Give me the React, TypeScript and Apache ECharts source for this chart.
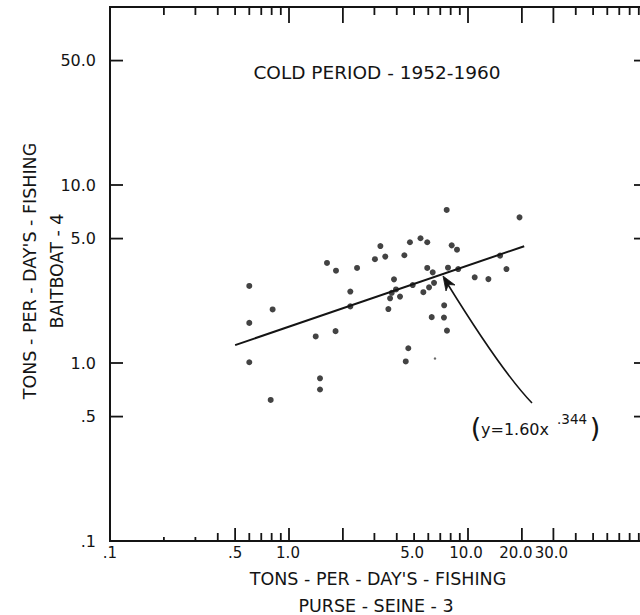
import React, { useEffect, useRef } from 'react';
import * as echarts from 'echarts';

// Tons per day's fishing, cold period 1952-1960
const purseSeine = [
  0.6, 0.6, 0.6, 0.81, 0.79, 1.41, 1.49, 1.49, 1.63, 1.83, 1.82, 2.2, 2.2, 2.4,
  3.02, 3.24, 3.45, 3.86, 3.59, 3.67, 3.75, 3.96, 4.17, 4.41, 4.74, 5.43, 5.92,
  4.91, 5.63, 5.92, 6.35, 6.06, 6.46, 6.27, 4.64, 4.49, 7.6, 19.4, 8.11, 8.68,
  15.1, 16.4, 13.0, 10.9, 7.73, 8.82, 7.36, 7.34, 7.63,
];
const baitboat = [
  2.71, 1.68, 1.01, 2.0, 0.62, 1.41, 0.82, 0.71, 3.65, 3.3, 1.51, 2.52, 2.08, 3.42,
  3.83, 4.54, 3.96, 2.95, 2.01, 2.31, 2.48, 2.59, 2.36, 4.03, 4.77, 5.02, 4.77,
  2.74, 2.5, 3.42, 3.23, 2.66, 2.82, 1.81, 1.21, 1.02, 7.24, 6.58, 4.58, 4.33,
  4.01, 3.37, 2.96, 3.03, 3.43, 3.37, 2.11, 1.8, 1.52,
];
// faint printed dot
const faintX = [6.54];
const faintY = [1.06];

// fitted curve y = a * x^b
const fitA = 1.6;
const fitB = 0.344;
const fitRange = [0.5, 20.6];

// log-paper tick marks
const xTickValues = [
  0.2, 0.3, 0.4, 0.5, 0.6, 0.7, 0.8, 0.9, 1, 2, 3, 4, 5, 6, 7, 8, 9, 10, 20, 30,
  40, 50, 60, 70, 80, 90,
];
const xLongTicks = [0.5, 1, 2, 10, 20, 30];
const xShortTicks = [0.2, 0.3];
const xLabelValues = [0.1, 0.5, 1, 5, 10, 20, 30];
const xLabels = ['.1', '.5', '1.0', '5.0', '10.0', '20.0', '30.0'];
const yTickValues = [0.5, 1, 5, 10, 50];
const yLabelValues = [0.1, 0.5, 1, 5, 10, 50];
const yLabels = ['.1', '.5', '1.0', '5.0', '10.0', '50.0'];

const INK = '#141414';
const FONT = '"DejaVu Sans", sans-serif';
const TICK_W = 1.8;
// small horizontal offsets of hand-lettered x labels
const xLabelNudge: Record<string, number> = { '1.0': -1, '5.0': -2, '10.0': -2, '20.0': -6, '30.0': -2 };

const fit = (x: number) => fitA * Math.pow(x, fitB);

const vTick = (x: number, y0: number, y1: number) => ({
  type: 'rect',
  silent: true,
  z: 100,
  shape: { x: x - TICK_W / 2, y: Math.min(y0, y1), width: TICK_W, height: Math.abs(y1 - y0) },
  style: { fill: INK },
});
const hTick = (y: number, x0: number, x1: number) => ({
  type: 'rect',
  silent: true,
  z: 100,
  shape: { x: Math.min(x0, x1), y: y - TICK_W / 2, width: Math.abs(x1 - x0), height: TICK_W },
  style: { fill: INK },
});
const txt = (text: string, x: number, y: number, fontSize: number, extra: any = {}) => ({
  type: 'text',
  x,
  y,
  silent: true,
  ...extra,
  style: {
    text,
    fill: INK,
    font: `${fontSize}px ${FONT}`,
    align: 'center',
    verticalAlign: 'middle',
    ...(extra.style || {}),
  },
});

export default function App() {
  const ref = useRef<HTMLDivElement>(null);

  useEffect(() => {
    if (!ref.current) return;
    const chart = echarts.init(ref.current, null, { renderer: 'svg' });

    chart.setOption({
      animation: false,
      backgroundColor: '#ffffff',
      grid: {
        left: 110,
        top: 7,
        width: 537,
        height: 534,
        show: true,
        borderColor: INK,
        borderWidth: 2,
        backgroundColor: 'transparent',
      },
      xAxis: {
        type: 'log',
        logBase: 10,
        min: 0.1,
        max: 100,
        axisLine: { show: false },
        axisTick: { show: false },
        axisLabel: { show: false },
        splitLine: { show: false },
      },
      yAxis: {
        type: 'log',
        logBase: 10,
        min: 0.1,
        max: 100,
        axisLine: { show: false },
        axisTick: { show: false },
        axisLabel: { show: false },
        splitLine: { show: false },
      },
      series: [
        {
          type: 'line',
          data: fitRange.map((x) => [x, fit(x)]),
          showSymbol: false,
          silent: true,
          lineStyle: { color: INK, width: 2 },
        },
        {
          type: 'scatter',
          data: purseSeine.map((x, i) => [x, baitboat[i]]),
          symbol: 'circle',
          symbolSize: 6,
          itemStyle: { color: INK },
          silent: true,
        },
        {
          type: 'scatter',
          data: faintX.map((x, i) => [x, faintY[i]]),
          symbol: 'circle',
          symbolSize: 2.5,
          itemStyle: { color: '#444' },
          silent: true,
        },
      ],
    });

    // ticks and labels placed through the axes' own log scales
    const toPx = (x: number, y: number) =>
      chart.convertToPixel({ gridIndex: 0 }, [x, y]) as unknown as number[];
    const [left, bottom] = toPx(0.1, 0.1);
    const [right, top] = toPx(100, 100);

    const marks: any[] = [];
    xTickValues.forEach((v) => {
      const px = toPx(v, 1)[0];
      const isLong = xLongTicks.includes(v);
      const isShort = xShortTicks.includes(v);
      const lb = isLong ? 13 : isShort ? 4 : 8;
      const lt = isLong && v !== 0.5 ? 16 : 8;
      marks.push(vTick(px, bottom, bottom - lb));
      marks.push(vTick(px, top, top + lt));
    });
    yTickValues.forEach((v) => {
      const py = toPx(1, v)[1];
      marks.push(hTick(py, left, left + 13));
      marks.push(hTick(py, right, right - 13));
    });
    xLabelValues.forEach((v, i) => {
      const px = toPx(v, 1)[0] + (xLabelNudge[xLabels[i]] || 0);
      marks.push(txt(xLabels[i], px, bottom + 12, 15));
    });
    yLabelValues.forEach((v, i) => {
      const py = toPx(1, v)[1];
      marks.push(txt(yLabels[i], left - 14, py, 16, { style: { align: 'right' } }));
    });

    chart.setOption({
      graphic: [
        ...marks,
        txt('COLD PERIOD - 1952-1960', 377, 72, 18.5),
        txt("TONS - PER - DAY'S - FISHING", 378, 579, 17.5),
        txt('PURSE - SEINE - 3', 376, 606, 17.5),
        txt("TONS - PER - DAY'S - FISHING", 30, 271, 17.5, { rotation: Math.PI / 2 }),
        txt('BAITBOAT - 4', 57, 271, 17.5, { rotation: Math.PI / 2 }),
        // fitted equation
        txt('(', 476, 427, 27),
        txt('y=1.60x', 481, 429, 16, { style: { align: 'left' } }),
        txt('.344', 557, 419, 13.5, { style: { align: 'left' } }),
        txt(')', 595, 427, 27),
        // pointer from the equation to the curve
        {
          type: 'bezierCurve',
          silent: true,
          shape: { x1: 447, y1: 283, cpx1: 502, cpy1: 372, x2: 532, y2: 403 },
          style: { stroke: INK, lineWidth: 1.6, fill: 'none' },
        },
        {
          type: 'polygon',
          silent: true,
          shape: {
            points: [
              [443, 276],
              [455, 285],
              [448.5, 284.5],
              [446, 291],
            ],
          },
          style: { fill: INK, stroke: INK, lineWidth: 0.8 },
        },
      ],
    });

    return () => chart.dispose();
  }, []);

  return (
    <div
      style={{
        position: 'fixed',
        left: 0,
        top: 0,
        width: 640,
        height: 615,
        overflow: 'hidden',
        background: '#fff',
      }}
    >
      <div ref={ref} style={{ width: 680, height: 615 }} />
    </div>
  );
}
